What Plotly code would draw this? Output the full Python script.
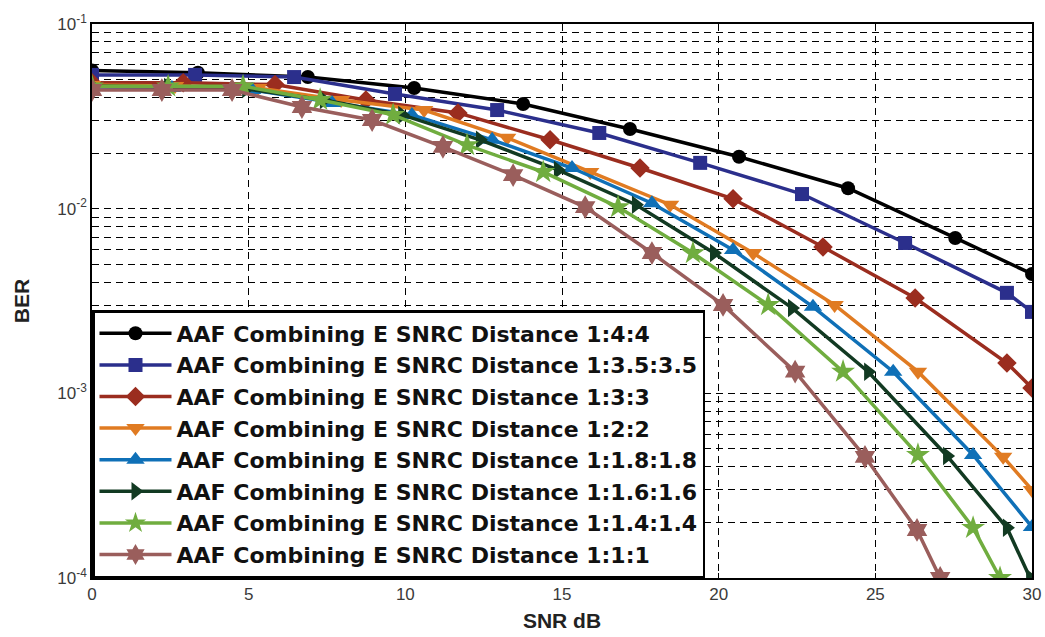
import plotly.graph_objects as go

# ---- data ----
names = [
    "AAF Combining E SNRC Distance 1:4:4",
    "AAF Combining E SNRC Distance 1:3.5:3.5",
    "AAF Combining E SNRC Distance 1:3:3",
    "AAF Combining E SNRC Distance 1:2:2",
    "AAF Combining E SNRC Distance 1:1.8:1.8",
    "AAF Combining E SNRC Distance 1:1.6:1.6",
    "AAF Combining E SNRC Distance 1:1.4:1.4",
    "AAF Combining E SNRC Distance 1:1:1",
]

snr_144 = [0, 3.38, 6.89, 10.28, 13.76, 17.17, 20.65, 24.13, 27.55, 30]
ber_144 = [0.056, 0.0545, 0.0516, 0.045, 0.0369, 0.027, 0.0191, 0.0129, 0.00694, 0.00443]

snr_1353 = [0, 3.29, 6.45, 9.67, 12.93, 16.19, 19.41, 22.66, 25.95, 29.2, 30]
ber_1353 = [0.053, 0.053, 0.0516, 0.0418, 0.0342, 0.0257, 0.0177, 0.0120, 0.00652, 0.0035, 0.00276]

snr_133 = [0, 2.91, 5.84, 8.74, 11.68, 14.62, 17.49, 20.46, 23.33, 26.27, 29.2, 30]
ber_133 = [0.048, 0.048, 0.047, 0.0388, 0.033, 0.0236, 0.0166, 0.0113, 0.0062, 0.00328, 0.00146, 0.00107]

snr_122 = [0, 2.65, 5.30, 7.95, 10.6, 13.25, 15.9, 18.45, 21.1, 23.7, 26.36, 29.08, 30]
ber_122 = [0.0467, 0.0462, 0.045, 0.0388, 0.0342, 0.0242, 0.0158, 0.0105, 0.00575, 0.00301, 0.00131, 0.000453, 0.0003]

snr_11818 = [0, 2.55, 5.11, 7.66, 10.21, 12.77, 15.32, 17.87, 20.46, 23.01, 25.57, 28.12, 30]
ber_11818 = [0.0456, 0.045, 0.0439, 0.0374, 0.0322, 0.0236, 0.0166, 0.0107, 0.00598, 0.00294, 0.00131, 0.000464, 0.000189]

snr_11616 = [0, 2.43, 4.92, 7.4, 9.9, 12.38, 14.87, 17.36, 19.85, 22.34, 24.77, 27.29, 29.2, 29.94]
ber_11616 = [0.0462, 0.0456, 0.0445, 0.0388, 0.0322, 0.0236, 0.0162, 0.0105, 0.00575, 0.0029, 0.00131, 0.000458, 0.000187, 0.0001]

snr_11414 = [0, 2.43, 4.82, 7.28, 9.61, 11.97, 14.4, 16.79, 19.18, 21.58, 23.97, 26.36, 28.12, 28.98]
ber_11414 = [0.046, 0.046, 0.046, 0.0388, 0.0322, 0.0221, 0.0158, 0.0102, 0.00575, 0.00301, 0.00131, 0.000464, 0.000187, 0.0001]

snr_111 = [0, 2.23, 4.47, 6.7, 8.94, 11.2, 13.44, 15.74, 17.87, 20.14, 22.44, 24.67, 26.33, 27.07]
ber_111 = [0.0439, 0.0439, 0.0439, 0.0355, 0.0302, 0.0216, 0.0152, 0.0102, 0.00575, 0.00301, 0.00131, 0.000453, 0.000182, 0.0001]

series_x = [snr_144, snr_1353, snr_133, snr_122, snr_11818, snr_11616, snr_11414, snr_111]
series_y = [ber_144, ber_1353, ber_133, ber_122, ber_11818, ber_11616, ber_11414, ber_111]

x_ticks = [0, 5, 10, 15, 20, 25, 30]
y_decades = [1e-4, 1e-3, 1e-2, 1e-1]
y_decade_labels = ["10<sup>-4</sup>", "10<sup>-3</sup>", "10<sup>-2</sup>", "10<sup>-1</sup>"]

# ---- styles ----
colors = ["#000000", "#2B2F8C", "#9B2D1F", "#E07B22", "#0F70B7", "#123A22", "#70AD3F", "#9A5E5C"]
symbols = ["circle", "square", "diamond", "triangle-down", "triangle-up", "triangle-right", "star", "hexagram"]
sizes = [14, 14, 15, 16, 16, 16, 18, 18]

fig = go.Figure()
for i in range(len(names)):
    fig.add_trace(go.Scatter(
        x=series_x[i], y=series_y[i], name=names[i], mode="lines+markers",
        line=dict(color=colors[i], width=3.5),
        marker=dict(symbol=symbols[i], size=sizes[i], color=colors[i], line=dict(width=0)),
        legendgroup=f"g{i}",
    ))

# y tick values: decades + minor positions (gridlines at each)
tickvals = []
ticktext = []
for d, lab in zip(y_decades, y_decade_labels):
    tickvals.append(d)
    ticktext.append(lab)
    if d < 0.1:
        for m in range(2, 10):
            tickvals.append(d * m)
            ticktext.append("")

tickfont = dict(family="Liberation Sans Narrow, Arial Narrow, Liberation Sans, Arial", size=17, color="#3a3a3a")
dash = "7px,5px"

fig.update_layout(
    width=1045, height=637,
    margin=dict(l=92, r=13, t=24, b=59),
    paper_bgcolor="white", plot_bgcolor="white",
    showlegend=True,
    legend=dict(
        x=0, y=0, xanchor="left", yanchor="bottom",
        bgcolor="white", bordercolor="black", borderwidth=2.5,
        font=dict(family="DejaVu Sans, Liberation Sans, Arial", size=22, color="#111111", weight="bold"),
        tracegroupgap=0, itemwidth=72,
    ),
    xaxis=dict(
        range=[0, 30], tickvals=x_ticks, ticktext=[str(v) for v in x_ticks],
        automargin=False,
        showgrid=True, gridcolor="black", griddash=dash, gridwidth=1.4,
        showline=True, linecolor="black", linewidth=1.5, mirror=True,
        ticks="inside", ticklen=5, tickcolor="black",
        tickfont=tickfont, zeroline=False,
        title=dict(text="SNR dB", font=dict(family="Liberation Sans, Arial", size=21, color="#222222", weight="bold"), standoff=10),
    ),
    yaxis=dict(
        type="log", range=[-4, -1], tickvals=tickvals, ticktext=ticktext,
        automargin=False,
        showgrid=True, gridcolor="black", griddash=dash, gridwidth=1.4,
        showline=True, linecolor="black", linewidth=1.5, mirror=True,
        ticks="", tickfont=tickfont, zeroline=False,
        title=dict(text="BER", font=dict(family="Liberation Sans, Arial", size=21, color="#222222", weight="bold"), standoff=22),
    ),
)

fig.write_html("out.html")
